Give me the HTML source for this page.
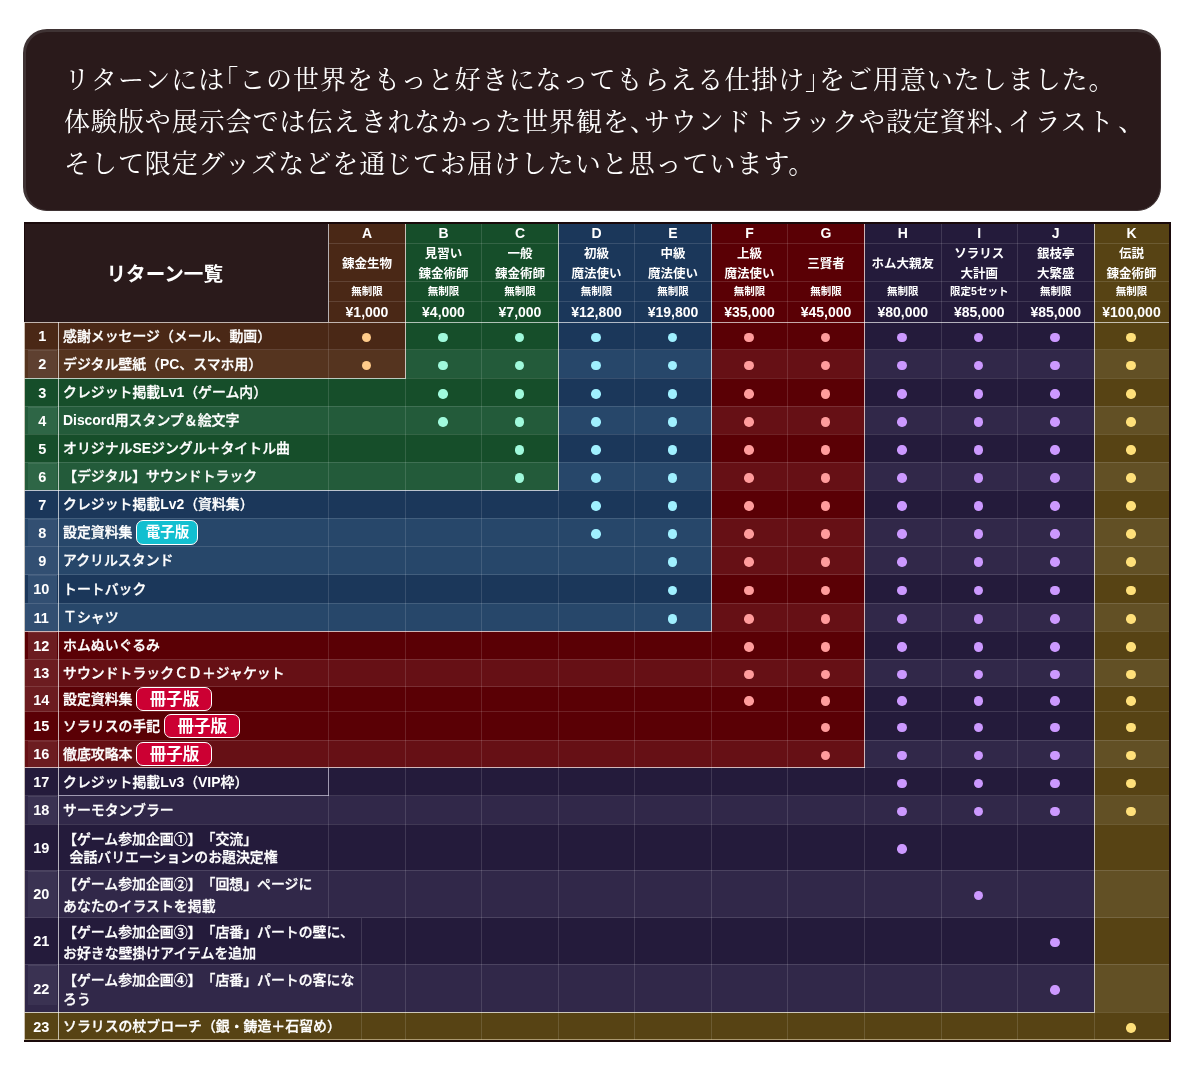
<!DOCTYPE html>
<html lang="ja"><head><meta charset="utf-8"><title>リターン一覧</title>
<style>
html,body{margin:0;padding:0;background:#fff;}
body{width:1200px;height:1071px;position:relative;overflow:hidden;}
#tbl div{position:absolute;box-sizing:border-box;}
#tbl .c{display:flex;align-items:center;justify-content:center;text-align:center;}
#tbl .it{display:flex;align-items:center;white-space:nowrap;}
#tbl{text-spacing-trim:space-all;position:absolute;left:0;top:0;width:1200px;height:1071px;font-family:"Liberation Sans","Noto Sans CJK JP",sans-serif;font-weight:700;color:#fff;}
.ttl{font-size:19.6px;}
.let{font-size:14px;}
.nm{font-size:12.5px;line-height:20px;}
.lim{font-size:10.5px;}
.pr{font-size:14px;}
.no{font-size:14.5px;}
.it b{font-weight:700;-webkit-text-stroke:0;}
.it{font-size:13.9px;line-height:22px;font-weight:500;-webkit-text-stroke:0.3px #fff;}
.dot{position:absolute;width:9.5px;height:9.5px;border-radius:50%;display:block;}
.bd{font-weight:700;-webkit-text-stroke:0;display:inline-block;border:1px solid #fff;border-radius:7px;color:#fff;margin-left:4px;box-sizing:border-box;text-align:center;}
.be{background:#12bfd0;font-size:14.5px;width:62px;height:25px;line-height:23px;}
.bp{background:#cc0033;font-size:16.5px;width:76px;height:24.5px;line-height:22.5px;}
#intro{position:absolute;left:23px;top:28.5px;width:1137.5px;height:182.5px;box-sizing:border-box;background:#2a1a1b;border-style:solid;border-color:#3f3334;border-width:3px 1.5px 1.5px 3px;border-radius:24px;}
#intro .h{font-feature-settings:"halt";}
#intro p{margin:0;position:absolute;left:38px;top:25px;font-family:"Noto Serif CJK JP","Noto Serif CJK SC",serif;font-size:26px;line-height:42px;color:#fff;white-space:nowrap;letter-spacing:0.95px;}
</style></head><body>
<div id="intro"><p>リターンには<span class="h">「</span>この世界をもっと好きになってもらえる仕掛け<span class="h">」</span>をご用意いたしました。<br>体験版や展示会では伝えきれなかった世界観を<span class="h">、</span>サウンドトラックや設定資料<span class="h">、</span>イラスト<span style="margin-left:3.5px">、</span><br>そして限定グッズなどを通じてお届けしたいと思っています。</p></div>
<div id="tbl">
<div style="left:24px;top:222px;width:304.5px;height:100px;background:#2a1a1b"></div>
<div style="left:328.5px;top:222px;width:77.0px;height:100px;background:#4a2816"></div>
<div style="left:405.5px;top:222px;width:76.0px;height:100px;background:#164e2a"></div>
<div style="left:481.5px;top:222px;width:77.0px;height:100px;background:#164e2a"></div>
<div style="left:558.5px;top:222px;width:76.0px;height:100px;background:#1b375a"></div>
<div style="left:634.5px;top:222px;width:77.0px;height:100px;background:#1b375a"></div>
<div style="left:711.5px;top:222px;width:76.0px;height:100px;background:#5a0005"></div>
<div style="left:787.5px;top:222px;width:77.0px;height:100px;background:#5a0005"></div>
<div style="left:864.5px;top:222px;width:76.5px;height:100px;background:#241b3b"></div>
<div style="left:941px;top:222px;width:76.5px;height:100px;background:#241b3b"></div>
<div style="left:1017.5px;top:222px;width:76.5px;height:100px;background:#241b3b"></div>
<div style="left:1094px;top:222px;width:75px;height:100px;background:#574314"></div>
<div style="left:24px;top:322px;width:34px;height:27.5px;background:#4a2816"></div>
<div style="left:58px;top:322px;width:270.5px;height:27.5px;background:#4a2816"></div>
<div style="left:328.5px;top:322px;width:77.0px;height:27.5px;background:#4a2816"></div>
<div style="left:405.5px;top:322px;width:76.0px;height:27.5px;background:#164e2a"></div>
<div style="left:481.5px;top:322px;width:77.0px;height:27.5px;background:#164e2a"></div>
<div style="left:558.5px;top:322px;width:76.0px;height:27.5px;background:#1b375a"></div>
<div style="left:634.5px;top:322px;width:77.0px;height:27.5px;background:#1b375a"></div>
<div style="left:711.5px;top:322px;width:76.0px;height:27.5px;background:#5a0005"></div>
<div style="left:787.5px;top:322px;width:77.0px;height:27.5px;background:#5a0005"></div>
<div style="left:864.5px;top:322px;width:76.5px;height:27.5px;background:#241b3b"></div>
<div style="left:941px;top:322px;width:76.5px;height:27.5px;background:#241b3b"></div>
<div style="left:1017.5px;top:322px;width:76.5px;height:27.5px;background:#241b3b"></div>
<div style="left:1094px;top:322px;width:75px;height:27.5px;background:#574314"></div>
<div style="left:24px;top:349.5px;width:34px;height:28.5px;background:#55341f"></div>
<div style="left:28px;top:350.0px;width:28.5px;height:27.5px;background:#5e4030"></div>
<div style="left:28px;top:350.0px;width:28.5px;height:1.0px;background:rgba(255,255,255,0.08)"></div>
<div style="left:58px;top:349.5px;width:270.5px;height:28.5px;background:#55341f"></div>
<div style="left:328.5px;top:349.5px;width:77.0px;height:28.5px;background:#55341f"></div>
<div style="left:405.5px;top:349.5px;width:76.0px;height:28.5px;background:#235b3a"></div>
<div style="left:481.5px;top:349.5px;width:77.0px;height:28.5px;background:#235b3a"></div>
<div style="left:558.5px;top:349.5px;width:76.0px;height:28.5px;background:#27476a"></div>
<div style="left:634.5px;top:349.5px;width:77.0px;height:28.5px;background:#27476a"></div>
<div style="left:711.5px;top:349.5px;width:76.0px;height:28.5px;background:#661015"></div>
<div style="left:787.5px;top:349.5px;width:77.0px;height:28.5px;background:#661015"></div>
<div style="left:864.5px;top:349.5px;width:76.5px;height:28.5px;background:#312849"></div>
<div style="left:941px;top:349.5px;width:76.5px;height:28.5px;background:#312849"></div>
<div style="left:1017.5px;top:349.5px;width:76.5px;height:28.5px;background:#312849"></div>
<div style="left:1094px;top:349.5px;width:75px;height:28.5px;background:#625025"></div>
<div style="left:24px;top:378px;width:34px;height:28px;background:#164e2a"></div>
<div style="left:58px;top:378px;width:270.5px;height:28px;background:#164e2a"></div>
<div style="left:328.5px;top:378px;width:77.0px;height:28px;background:#164e2a"></div>
<div style="left:405.5px;top:378px;width:76.0px;height:28px;background:#164e2a"></div>
<div style="left:481.5px;top:378px;width:77.0px;height:28px;background:#164e2a"></div>
<div style="left:558.5px;top:378px;width:76.0px;height:28px;background:#1b375a"></div>
<div style="left:634.5px;top:378px;width:77.0px;height:28px;background:#1b375a"></div>
<div style="left:711.5px;top:378px;width:76.0px;height:28px;background:#5a0005"></div>
<div style="left:787.5px;top:378px;width:77.0px;height:28px;background:#5a0005"></div>
<div style="left:864.5px;top:378px;width:76.5px;height:28px;background:#241b3b"></div>
<div style="left:941px;top:378px;width:76.5px;height:28px;background:#241b3b"></div>
<div style="left:1017.5px;top:378px;width:76.5px;height:28px;background:#241b3b"></div>
<div style="left:1094px;top:378px;width:75px;height:28px;background:#574314"></div>
<div style="left:24px;top:406px;width:34px;height:28px;background:#235b3a"></div>
<div style="left:28px;top:406.5px;width:28.5px;height:27.0px;background:#2e6646"></div>
<div style="left:28px;top:406.5px;width:28.5px;height:1.0px;background:rgba(255,255,255,0.08)"></div>
<div style="left:58px;top:406px;width:270.5px;height:28px;background:#235b3a"></div>
<div style="left:328.5px;top:406px;width:77.0px;height:28px;background:#235b3a"></div>
<div style="left:405.5px;top:406px;width:76.0px;height:28px;background:#235b3a"></div>
<div style="left:481.5px;top:406px;width:77.0px;height:28px;background:#235b3a"></div>
<div style="left:558.5px;top:406px;width:76.0px;height:28px;background:#27476a"></div>
<div style="left:634.5px;top:406px;width:77.0px;height:28px;background:#27476a"></div>
<div style="left:711.5px;top:406px;width:76.0px;height:28px;background:#661015"></div>
<div style="left:787.5px;top:406px;width:77.0px;height:28px;background:#661015"></div>
<div style="left:864.5px;top:406px;width:76.5px;height:28px;background:#312849"></div>
<div style="left:941px;top:406px;width:76.5px;height:28px;background:#312849"></div>
<div style="left:1017.5px;top:406px;width:76.5px;height:28px;background:#312849"></div>
<div style="left:1094px;top:406px;width:75px;height:28px;background:#625025"></div>
<div style="left:24px;top:434px;width:34px;height:28px;background:#164e2a"></div>
<div style="left:58px;top:434px;width:270.5px;height:28px;background:#164e2a"></div>
<div style="left:328.5px;top:434px;width:77.0px;height:28px;background:#164e2a"></div>
<div style="left:405.5px;top:434px;width:76.0px;height:28px;background:#164e2a"></div>
<div style="left:481.5px;top:434px;width:77.0px;height:28px;background:#164e2a"></div>
<div style="left:558.5px;top:434px;width:76.0px;height:28px;background:#1b375a"></div>
<div style="left:634.5px;top:434px;width:77.0px;height:28px;background:#1b375a"></div>
<div style="left:711.5px;top:434px;width:76.0px;height:28px;background:#5a0005"></div>
<div style="left:787.5px;top:434px;width:77.0px;height:28px;background:#5a0005"></div>
<div style="left:864.5px;top:434px;width:76.5px;height:28px;background:#241b3b"></div>
<div style="left:941px;top:434px;width:76.5px;height:28px;background:#241b3b"></div>
<div style="left:1017.5px;top:434px;width:76.5px;height:28px;background:#241b3b"></div>
<div style="left:1094px;top:434px;width:75px;height:28px;background:#574314"></div>
<div style="left:24px;top:462px;width:34px;height:28px;background:#235b3a"></div>
<div style="left:28px;top:462.5px;width:28.5px;height:27.0px;background:#2e6646"></div>
<div style="left:28px;top:462.5px;width:28.5px;height:1.0px;background:rgba(255,255,255,0.08)"></div>
<div style="left:58px;top:462px;width:270.5px;height:28px;background:#235b3a"></div>
<div style="left:328.5px;top:462px;width:77.0px;height:28px;background:#235b3a"></div>
<div style="left:405.5px;top:462px;width:76.0px;height:28px;background:#235b3a"></div>
<div style="left:481.5px;top:462px;width:77.0px;height:28px;background:#235b3a"></div>
<div style="left:558.5px;top:462px;width:76.0px;height:28px;background:#27476a"></div>
<div style="left:634.5px;top:462px;width:77.0px;height:28px;background:#27476a"></div>
<div style="left:711.5px;top:462px;width:76.0px;height:28px;background:#661015"></div>
<div style="left:787.5px;top:462px;width:77.0px;height:28px;background:#661015"></div>
<div style="left:864.5px;top:462px;width:76.5px;height:28px;background:#312849"></div>
<div style="left:941px;top:462px;width:76.5px;height:28px;background:#312849"></div>
<div style="left:1017.5px;top:462px;width:76.5px;height:28px;background:#312849"></div>
<div style="left:1094px;top:462px;width:75px;height:28px;background:#625025"></div>
<div style="left:24px;top:490px;width:34px;height:28px;background:#1b375a"></div>
<div style="left:58px;top:490px;width:270.5px;height:28px;background:#1b375a"></div>
<div style="left:328.5px;top:490px;width:77.0px;height:28px;background:#1b375a"></div>
<div style="left:405.5px;top:490px;width:76.0px;height:28px;background:#1b375a"></div>
<div style="left:481.5px;top:490px;width:77.0px;height:28px;background:#1b375a"></div>
<div style="left:558.5px;top:490px;width:76.0px;height:28px;background:#1b375a"></div>
<div style="left:634.5px;top:490px;width:77.0px;height:28px;background:#1b375a"></div>
<div style="left:711.5px;top:490px;width:76.0px;height:28px;background:#5a0005"></div>
<div style="left:787.5px;top:490px;width:77.0px;height:28px;background:#5a0005"></div>
<div style="left:864.5px;top:490px;width:76.5px;height:28px;background:#241b3b"></div>
<div style="left:941px;top:490px;width:76.5px;height:28px;background:#241b3b"></div>
<div style="left:1017.5px;top:490px;width:76.5px;height:28px;background:#241b3b"></div>
<div style="left:1094px;top:490px;width:75px;height:28px;background:#574314"></div>
<div style="left:24px;top:518px;width:34px;height:28px;background:#27476a"></div>
<div style="left:28px;top:518.5px;width:28.5px;height:27.0px;background:#324f72"></div>
<div style="left:28px;top:518.5px;width:28.5px;height:1.0px;background:rgba(255,255,255,0.08)"></div>
<div style="left:58px;top:518px;width:270.5px;height:28px;background:#27476a"></div>
<div style="left:328.5px;top:518px;width:77.0px;height:28px;background:#27476a"></div>
<div style="left:405.5px;top:518px;width:76.0px;height:28px;background:#27476a"></div>
<div style="left:481.5px;top:518px;width:77.0px;height:28px;background:#27476a"></div>
<div style="left:558.5px;top:518px;width:76.0px;height:28px;background:#27476a"></div>
<div style="left:634.5px;top:518px;width:77.0px;height:28px;background:#27476a"></div>
<div style="left:711.5px;top:518px;width:76.0px;height:28px;background:#661015"></div>
<div style="left:787.5px;top:518px;width:77.0px;height:28px;background:#661015"></div>
<div style="left:864.5px;top:518px;width:76.5px;height:28px;background:#312849"></div>
<div style="left:941px;top:518px;width:76.5px;height:28px;background:#312849"></div>
<div style="left:1017.5px;top:518px;width:76.5px;height:28px;background:#312849"></div>
<div style="left:1094px;top:518px;width:75px;height:28px;background:#625025"></div>
<div style="left:24px;top:546px;width:34px;height:28.5px;background:#324f72"></div>
<div style="left:58px;top:546px;width:270.5px;height:28.5px;background:#27476a"></div>
<div style="left:328.5px;top:546px;width:77.0px;height:28.5px;background:#27476a"></div>
<div style="left:405.5px;top:546px;width:76.0px;height:28.5px;background:#27476a"></div>
<div style="left:481.5px;top:546px;width:77.0px;height:28.5px;background:#27476a"></div>
<div style="left:558.5px;top:546px;width:76.0px;height:28.5px;background:#27476a"></div>
<div style="left:634.5px;top:546px;width:77.0px;height:28.5px;background:#27476a"></div>
<div style="left:711.5px;top:546px;width:76.0px;height:28.5px;background:#661015"></div>
<div style="left:787.5px;top:546px;width:77.0px;height:28.5px;background:#661015"></div>
<div style="left:864.5px;top:546px;width:76.5px;height:28.5px;background:#312849"></div>
<div style="left:941px;top:546px;width:76.5px;height:28.5px;background:#312849"></div>
<div style="left:1017.5px;top:546px;width:76.5px;height:28.5px;background:#312849"></div>
<div style="left:1094px;top:546px;width:75px;height:28.5px;background:#625025"></div>
<div style="left:24px;top:574.5px;width:34px;height:28.5px;background:#1b375a"></div>
<div style="left:28px;top:575.0px;width:28.5px;height:27.5px;background:#324f72"></div>
<div style="left:28px;top:575.0px;width:28.5px;height:1.0px;background:rgba(255,255,255,0.08)"></div>
<div style="left:58px;top:574.5px;width:270.5px;height:28.5px;background:#1b375a"></div>
<div style="left:328.5px;top:574.5px;width:77.0px;height:28.5px;background:#1b375a"></div>
<div style="left:405.5px;top:574.5px;width:76.0px;height:28.5px;background:#1b375a"></div>
<div style="left:481.5px;top:574.5px;width:77.0px;height:28.5px;background:#1b375a"></div>
<div style="left:558.5px;top:574.5px;width:76.0px;height:28.5px;background:#1b375a"></div>
<div style="left:634.5px;top:574.5px;width:77.0px;height:28.5px;background:#1b375a"></div>
<div style="left:711.5px;top:574.5px;width:76.0px;height:28.5px;background:#5a0005"></div>
<div style="left:787.5px;top:574.5px;width:77.0px;height:28.5px;background:#5a0005"></div>
<div style="left:864.5px;top:574.5px;width:76.5px;height:28.5px;background:#241b3b"></div>
<div style="left:941px;top:574.5px;width:76.5px;height:28.5px;background:#241b3b"></div>
<div style="left:1017.5px;top:574.5px;width:76.5px;height:28.5px;background:#241b3b"></div>
<div style="left:1094px;top:574.5px;width:75px;height:28.5px;background:#574314"></div>
<div style="left:24px;top:603px;width:34px;height:28px;background:#324f72"></div>
<div style="left:58px;top:603px;width:270.5px;height:28px;background:#27476a"></div>
<div style="left:328.5px;top:603px;width:77.0px;height:28px;background:#27476a"></div>
<div style="left:405.5px;top:603px;width:76.0px;height:28px;background:#27476a"></div>
<div style="left:481.5px;top:603px;width:77.0px;height:28px;background:#27476a"></div>
<div style="left:558.5px;top:603px;width:76.0px;height:28px;background:#27476a"></div>
<div style="left:634.5px;top:603px;width:77.0px;height:28px;background:#27476a"></div>
<div style="left:711.5px;top:603px;width:76.0px;height:28px;background:#661015"></div>
<div style="left:787.5px;top:603px;width:77.0px;height:28px;background:#661015"></div>
<div style="left:864.5px;top:603px;width:76.5px;height:28px;background:#312849"></div>
<div style="left:941px;top:603px;width:76.5px;height:28px;background:#312849"></div>
<div style="left:1017.5px;top:603px;width:76.5px;height:28px;background:#312849"></div>
<div style="left:1094px;top:603px;width:75px;height:28px;background:#625025"></div>
<div style="left:24px;top:631px;width:34px;height:28px;background:#5a0005"></div>
<div style="left:28px;top:631.5px;width:28.5px;height:27.0px;background:#6c1c20"></div>
<div style="left:28px;top:631.5px;width:28.5px;height:1.0px;background:rgba(255,255,255,0.08)"></div>
<div style="left:58px;top:631px;width:270.5px;height:28px;background:#5a0005"></div>
<div style="left:328.5px;top:631px;width:77.0px;height:28px;background:#5a0005"></div>
<div style="left:405.5px;top:631px;width:76.0px;height:28px;background:#5a0005"></div>
<div style="left:481.5px;top:631px;width:77.0px;height:28px;background:#5a0005"></div>
<div style="left:558.5px;top:631px;width:76.0px;height:28px;background:#5a0005"></div>
<div style="left:634.5px;top:631px;width:77.0px;height:28px;background:#5a0005"></div>
<div style="left:711.5px;top:631px;width:76.0px;height:28px;background:#5a0005"></div>
<div style="left:787.5px;top:631px;width:77.0px;height:28px;background:#5a0005"></div>
<div style="left:864.5px;top:631px;width:76.5px;height:28px;background:#241b3b"></div>
<div style="left:941px;top:631px;width:76.5px;height:28px;background:#241b3b"></div>
<div style="left:1017.5px;top:631px;width:76.5px;height:28px;background:#241b3b"></div>
<div style="left:1094px;top:631px;width:75px;height:28px;background:#574314"></div>
<div style="left:24px;top:659px;width:34px;height:27.5px;background:#6c1c20"></div>
<div style="left:58px;top:659px;width:270.5px;height:27.5px;background:#661015"></div>
<div style="left:328.5px;top:659px;width:77.0px;height:27.5px;background:#661015"></div>
<div style="left:405.5px;top:659px;width:76.0px;height:27.5px;background:#661015"></div>
<div style="left:481.5px;top:659px;width:77.0px;height:27.5px;background:#661015"></div>
<div style="left:558.5px;top:659px;width:76.0px;height:27.5px;background:#661015"></div>
<div style="left:634.5px;top:659px;width:77.0px;height:27.5px;background:#661015"></div>
<div style="left:711.5px;top:659px;width:76.0px;height:27.5px;background:#661015"></div>
<div style="left:787.5px;top:659px;width:77.0px;height:27.5px;background:#661015"></div>
<div style="left:864.5px;top:659px;width:76.5px;height:27.5px;background:#312849"></div>
<div style="left:941px;top:659px;width:76.5px;height:27.5px;background:#312849"></div>
<div style="left:1017.5px;top:659px;width:76.5px;height:27.5px;background:#312849"></div>
<div style="left:1094px;top:659px;width:75px;height:27.5px;background:#625025"></div>
<div style="left:24px;top:686.5px;width:34px;height:25.0px;background:#6c1c20"></div>
<div style="left:58px;top:686.5px;width:270.5px;height:25.0px;background:#5a0005"></div>
<div style="left:328.5px;top:686.5px;width:77.0px;height:25.0px;background:#5a0005"></div>
<div style="left:405.5px;top:686.5px;width:76.0px;height:25.0px;background:#5a0005"></div>
<div style="left:481.5px;top:686.5px;width:77.0px;height:25.0px;background:#5a0005"></div>
<div style="left:558.5px;top:686.5px;width:76.0px;height:25.0px;background:#5a0005"></div>
<div style="left:634.5px;top:686.5px;width:77.0px;height:25.0px;background:#5a0005"></div>
<div style="left:711.5px;top:686.5px;width:76.0px;height:25.0px;background:#5a0005"></div>
<div style="left:787.5px;top:686.5px;width:77.0px;height:25.0px;background:#5a0005"></div>
<div style="left:864.5px;top:686.5px;width:76.5px;height:25.0px;background:#241b3b"></div>
<div style="left:941px;top:686.5px;width:76.5px;height:25.0px;background:#241b3b"></div>
<div style="left:1017.5px;top:686.5px;width:76.5px;height:25.0px;background:#241b3b"></div>
<div style="left:1094px;top:686.5px;width:75px;height:25.0px;background:#574314"></div>
<div style="left:24px;top:711.5px;width:34px;height:28.5px;background:#5a0005"></div>
<div style="left:58px;top:711.5px;width:270.5px;height:28.5px;background:#5a0005"></div>
<div style="left:328.5px;top:711.5px;width:77.0px;height:28.5px;background:#5a0005"></div>
<div style="left:405.5px;top:711.5px;width:76.0px;height:28.5px;background:#5a0005"></div>
<div style="left:481.5px;top:711.5px;width:77.0px;height:28.5px;background:#5a0005"></div>
<div style="left:558.5px;top:711.5px;width:76.0px;height:28.5px;background:#5a0005"></div>
<div style="left:634.5px;top:711.5px;width:77.0px;height:28.5px;background:#5a0005"></div>
<div style="left:711.5px;top:711.5px;width:76.0px;height:28.5px;background:#5a0005"></div>
<div style="left:787.5px;top:711.5px;width:77.0px;height:28.5px;background:#5a0005"></div>
<div style="left:864.5px;top:711.5px;width:76.5px;height:28.5px;background:#241b3b"></div>
<div style="left:941px;top:711.5px;width:76.5px;height:28.5px;background:#241b3b"></div>
<div style="left:1017.5px;top:711.5px;width:76.5px;height:28.5px;background:#241b3b"></div>
<div style="left:1094px;top:711.5px;width:75px;height:28.5px;background:#574314"></div>
<div style="left:24px;top:740px;width:34px;height:27.5px;background:#661015"></div>
<div style="left:28px;top:740.5px;width:28.5px;height:26.5px;background:#6c1c20"></div>
<div style="left:28px;top:740.5px;width:28.5px;height:1.0px;background:rgba(255,255,255,0.08)"></div>
<div style="left:58px;top:740px;width:270.5px;height:27.5px;background:#661015"></div>
<div style="left:328.5px;top:740px;width:77.0px;height:27.5px;background:#661015"></div>
<div style="left:405.5px;top:740px;width:76.0px;height:27.5px;background:#661015"></div>
<div style="left:481.5px;top:740px;width:77.0px;height:27.5px;background:#661015"></div>
<div style="left:558.5px;top:740px;width:76.0px;height:27.5px;background:#661015"></div>
<div style="left:634.5px;top:740px;width:77.0px;height:27.5px;background:#661015"></div>
<div style="left:711.5px;top:740px;width:76.0px;height:27.5px;background:#661015"></div>
<div style="left:787.5px;top:740px;width:77.0px;height:27.5px;background:#661015"></div>
<div style="left:864.5px;top:740px;width:76.5px;height:27.5px;background:#312849"></div>
<div style="left:941px;top:740px;width:76.5px;height:27.5px;background:#312849"></div>
<div style="left:1017.5px;top:740px;width:76.5px;height:27.5px;background:#312849"></div>
<div style="left:1094px;top:740px;width:75px;height:27.5px;background:#625025"></div>
<div style="left:24px;top:767.5px;width:34px;height:28.0px;background:#241b3b"></div>
<div style="left:58px;top:767.5px;width:270.5px;height:28.0px;background:#241b3b"></div>
<div style="left:328.5px;top:767.5px;width:77.0px;height:28.0px;background:#241b3b"></div>
<div style="left:405.5px;top:767.5px;width:76.0px;height:28.0px;background:#241b3b"></div>
<div style="left:481.5px;top:767.5px;width:77.0px;height:28.0px;background:#241b3b"></div>
<div style="left:558.5px;top:767.5px;width:76.0px;height:28.0px;background:#241b3b"></div>
<div style="left:634.5px;top:767.5px;width:77.0px;height:28.0px;background:#241b3b"></div>
<div style="left:711.5px;top:767.5px;width:76.0px;height:28.0px;background:#241b3b"></div>
<div style="left:787.5px;top:767.5px;width:77.0px;height:28.0px;background:#241b3b"></div>
<div style="left:864.5px;top:767.5px;width:76.5px;height:28.0px;background:#241b3b"></div>
<div style="left:941px;top:767.5px;width:76.5px;height:28.0px;background:#241b3b"></div>
<div style="left:1017.5px;top:767.5px;width:76.5px;height:28.0px;background:#241b3b"></div>
<div style="left:1094px;top:767.5px;width:75px;height:28.0px;background:#574314"></div>
<div style="left:24px;top:795.5px;width:34px;height:28.5px;background:#312849"></div>
<div style="left:28px;top:796.0px;width:28.5px;height:27.5px;background:#3a3252"></div>
<div style="left:28px;top:796.0px;width:28.5px;height:1.0px;background:rgba(255,255,255,0.08)"></div>
<div style="left:58px;top:795.5px;width:270.5px;height:28.5px;background:#312849"></div>
<div style="left:328.5px;top:795.5px;width:77.0px;height:28.5px;background:#312849"></div>
<div style="left:405.5px;top:795.5px;width:76.0px;height:28.5px;background:#312849"></div>
<div style="left:481.5px;top:795.5px;width:77.0px;height:28.5px;background:#312849"></div>
<div style="left:558.5px;top:795.5px;width:76.0px;height:28.5px;background:#312849"></div>
<div style="left:634.5px;top:795.5px;width:77.0px;height:28.5px;background:#312849"></div>
<div style="left:711.5px;top:795.5px;width:76.0px;height:28.5px;background:#312849"></div>
<div style="left:787.5px;top:795.5px;width:77.0px;height:28.5px;background:#312849"></div>
<div style="left:864.5px;top:795.5px;width:76.5px;height:28.5px;background:#312849"></div>
<div style="left:941px;top:795.5px;width:76.5px;height:28.5px;background:#312849"></div>
<div style="left:1017.5px;top:795.5px;width:76.5px;height:28.5px;background:#312849"></div>
<div style="left:1094px;top:795.5px;width:75px;height:28.5px;background:#625025"></div>
<div style="left:24px;top:824px;width:34px;height:46px;background:#241b3b"></div>
<div style="left:58px;top:824px;width:270.5px;height:46px;background:#241b3b"></div>
<div style="left:328.5px;top:824px;width:77.0px;height:46px;background:#241b3b"></div>
<div style="left:405.5px;top:824px;width:76.0px;height:46px;background:#241b3b"></div>
<div style="left:481.5px;top:824px;width:77.0px;height:46px;background:#241b3b"></div>
<div style="left:558.5px;top:824px;width:76.0px;height:46px;background:#241b3b"></div>
<div style="left:634.5px;top:824px;width:77.0px;height:46px;background:#241b3b"></div>
<div style="left:711.5px;top:824px;width:76.0px;height:46px;background:#241b3b"></div>
<div style="left:787.5px;top:824px;width:77.0px;height:46px;background:#241b3b"></div>
<div style="left:864.5px;top:824px;width:76.5px;height:46px;background:#241b3b"></div>
<div style="left:941px;top:824px;width:76.5px;height:46px;background:#241b3b"></div>
<div style="left:1017.5px;top:824px;width:76.5px;height:46px;background:#241b3b"></div>
<div style="left:1094px;top:824px;width:75px;height:46px;background:#574314"></div>
<div style="left:24px;top:870px;width:34px;height:47.5px;background:#312849"></div>
<div style="left:28px;top:870.5px;width:28.5px;height:46.5px;background:#3a3252"></div>
<div style="left:28px;top:870.5px;width:28.5px;height:1.0px;background:rgba(255,255,255,0.08)"></div>
<div style="left:58px;top:870px;width:270.5px;height:47.5px;background:#312849"></div>
<div style="left:328.5px;top:870px;width:77.0px;height:47.5px;background:#312849"></div>
<div style="left:405.5px;top:870px;width:76.0px;height:47.5px;background:#312849"></div>
<div style="left:481.5px;top:870px;width:77.0px;height:47.5px;background:#312849"></div>
<div style="left:558.5px;top:870px;width:76.0px;height:47.5px;background:#312849"></div>
<div style="left:634.5px;top:870px;width:77.0px;height:47.5px;background:#312849"></div>
<div style="left:711.5px;top:870px;width:76.0px;height:47.5px;background:#312849"></div>
<div style="left:787.5px;top:870px;width:77.0px;height:47.5px;background:#312849"></div>
<div style="left:864.5px;top:870px;width:76.5px;height:47.5px;background:#312849"></div>
<div style="left:941px;top:870px;width:76.5px;height:47.5px;background:#312849"></div>
<div style="left:1017.5px;top:870px;width:76.5px;height:47.5px;background:#312849"></div>
<div style="left:1094px;top:870px;width:75px;height:47.5px;background:#625025"></div>
<div style="left:24px;top:917.5px;width:34px;height:46.5px;background:#241b3b"></div>
<div style="left:58px;top:917.5px;width:270.5px;height:46.5px;background:#241b3b"></div>
<div style="left:328.5px;top:917.5px;width:77.0px;height:46.5px;background:#241b3b"></div>
<div style="left:405.5px;top:917.5px;width:76.0px;height:46.5px;background:#241b3b"></div>
<div style="left:481.5px;top:917.5px;width:77.0px;height:46.5px;background:#241b3b"></div>
<div style="left:558.5px;top:917.5px;width:76.0px;height:46.5px;background:#241b3b"></div>
<div style="left:634.5px;top:917.5px;width:77.0px;height:46.5px;background:#241b3b"></div>
<div style="left:711.5px;top:917.5px;width:76.0px;height:46.5px;background:#241b3b"></div>
<div style="left:787.5px;top:917.5px;width:77.0px;height:46.5px;background:#241b3b"></div>
<div style="left:864.5px;top:917.5px;width:76.5px;height:46.5px;background:#241b3b"></div>
<div style="left:941px;top:917.5px;width:76.5px;height:46.5px;background:#241b3b"></div>
<div style="left:1017.5px;top:917.5px;width:76.5px;height:46.5px;background:#241b3b"></div>
<div style="left:1094px;top:917.5px;width:75px;height:46.5px;background:#574314"></div>
<div style="left:24px;top:964px;width:34px;height:48px;background:#312849"></div>
<div style="left:28px;top:964.5px;width:28.5px;height:40.5px;background:#3a3252"></div>
<div style="left:28px;top:964.5px;width:28.5px;height:1.0px;background:rgba(255,255,255,0.08)"></div>
<div style="left:58px;top:964px;width:270.5px;height:48px;background:#312849"></div>
<div style="left:328.5px;top:964px;width:77.0px;height:48px;background:#312849"></div>
<div style="left:405.5px;top:964px;width:76.0px;height:48px;background:#312849"></div>
<div style="left:481.5px;top:964px;width:77.0px;height:48px;background:#312849"></div>
<div style="left:558.5px;top:964px;width:76.0px;height:48px;background:#312849"></div>
<div style="left:634.5px;top:964px;width:77.0px;height:48px;background:#312849"></div>
<div style="left:711.5px;top:964px;width:76.0px;height:48px;background:#312849"></div>
<div style="left:787.5px;top:964px;width:77.0px;height:48px;background:#312849"></div>
<div style="left:864.5px;top:964px;width:76.5px;height:48px;background:#312849"></div>
<div style="left:941px;top:964px;width:76.5px;height:48px;background:#312849"></div>
<div style="left:1017.5px;top:964px;width:76.5px;height:48px;background:#312849"></div>
<div style="left:1094px;top:964px;width:75px;height:48px;background:#625025"></div>
<div style="left:24px;top:1012px;width:34px;height:28px;background:#574314"></div>
<div style="left:58px;top:1012px;width:270.5px;height:28px;background:#574314"></div>
<div style="left:328.5px;top:1012px;width:77.0px;height:28px;background:#574314"></div>
<div style="left:405.5px;top:1012px;width:76.0px;height:28px;background:#574314"></div>
<div style="left:481.5px;top:1012px;width:77.0px;height:28px;background:#574314"></div>
<div style="left:558.5px;top:1012px;width:76.0px;height:28px;background:#574314"></div>
<div style="left:634.5px;top:1012px;width:77.0px;height:28px;background:#574314"></div>
<div style="left:711.5px;top:1012px;width:76.0px;height:28px;background:#574314"></div>
<div style="left:787.5px;top:1012px;width:77.0px;height:28px;background:#574314"></div>
<div style="left:864.5px;top:1012px;width:76.5px;height:28px;background:#574314"></div>
<div style="left:941px;top:1012px;width:76.5px;height:28px;background:#574314"></div>
<div style="left:1017.5px;top:1012px;width:76.5px;height:28px;background:#574314"></div>
<div style="left:1094px;top:1012px;width:75px;height:28px;background:#574314"></div>
<div style="left:328.5px;top:242.8px;width:840.5px;height:1.0px;background:rgba(255,255,255,0.13)"></div>
<div style="left:328.5px;top:280.8px;width:840.5px;height:1.0px;background:rgba(255,255,255,0.13)"></div>
<div style="left:328.5px;top:301.1px;width:840.5px;height:1.0px;background:rgba(255,255,255,0.13)"></div>
<div style="left:405.0px;top:222px;width:1.0px;height:100px;background:rgba(255,255,255,0.13)"></div>
<div style="left:481.0px;top:222px;width:1.0px;height:100px;background:rgba(255,255,255,0.13)"></div>
<div style="left:558.0px;top:222px;width:1.0px;height:100px;background:rgba(255,255,255,0.13)"></div>
<div style="left:634.0px;top:222px;width:1.0px;height:100px;background:rgba(255,255,255,0.13)"></div>
<div style="left:711.0px;top:222px;width:1.0px;height:100px;background:rgba(255,255,255,0.13)"></div>
<div style="left:787.0px;top:222px;width:1.0px;height:100px;background:rgba(255,255,255,0.13)"></div>
<div style="left:864.0px;top:222px;width:1.0px;height:100px;background:rgba(255,255,255,0.13)"></div>
<div style="left:940.5px;top:222px;width:1.0px;height:100px;background:rgba(255,255,255,0.13)"></div>
<div style="left:1017.0px;top:222px;width:1.0px;height:100px;background:rgba(255,255,255,0.13)"></div>
<div style="left:1093.5px;top:222px;width:1.0px;height:100px;background:rgba(255,255,255,0.13)"></div>
<div style="left:24px;top:349.0px;width:1145px;height:1.0px;background:rgba(255,255,255,0.13)"></div>
<div style="left:24px;top:377.5px;width:1145px;height:1.0px;background:rgba(255,255,255,0.13)"></div>
<div style="left:24px;top:405.5px;width:1145px;height:1.0px;background:rgba(255,255,255,0.13)"></div>
<div style="left:24px;top:433.5px;width:1145px;height:1.0px;background:rgba(255,255,255,0.13)"></div>
<div style="left:24px;top:461.5px;width:1145px;height:1.0px;background:rgba(255,255,255,0.13)"></div>
<div style="left:24px;top:489.5px;width:1145px;height:1.0px;background:rgba(255,255,255,0.13)"></div>
<div style="left:24px;top:517.5px;width:1145px;height:1.0px;background:rgba(255,255,255,0.13)"></div>
<div style="left:24px;top:545.5px;width:1145px;height:1.0px;background:rgba(255,255,255,0.13)"></div>
<div style="left:24px;top:574.0px;width:1145px;height:1.0px;background:rgba(255,255,255,0.13)"></div>
<div style="left:24px;top:602.5px;width:1145px;height:1.0px;background:rgba(255,255,255,0.13)"></div>
<div style="left:24px;top:630.5px;width:1145px;height:1.0px;background:rgba(255,255,255,0.13)"></div>
<div style="left:24px;top:658.5px;width:1145px;height:1.0px;background:rgba(255,255,255,0.13)"></div>
<div style="left:24px;top:686.0px;width:1145px;height:1.0px;background:rgba(255,255,255,0.13)"></div>
<div style="left:24px;top:711.0px;width:1145px;height:1.0px;background:rgba(255,255,255,0.13)"></div>
<div style="left:24px;top:739.5px;width:1145px;height:1.0px;background:rgba(255,255,255,0.13)"></div>
<div style="left:24px;top:767.0px;width:1145px;height:1.0px;background:rgba(255,255,255,0.13)"></div>
<div style="left:24px;top:795.0px;width:1145px;height:1.0px;background:rgba(255,255,255,0.13)"></div>
<div style="left:24px;top:823.5px;width:1145px;height:1.0px;background:rgba(255,255,255,0.13)"></div>
<div style="left:24px;top:869.5px;width:1145px;height:1.0px;background:rgba(255,255,255,0.13)"></div>
<div style="left:24px;top:917.0px;width:1145px;height:1.0px;background:rgba(255,255,255,0.13)"></div>
<div style="left:24px;top:963.5px;width:1145px;height:1.0px;background:rgba(255,255,255,0.13)"></div>
<div style="left:24px;top:1011.5px;width:1145px;height:1.0px;background:rgba(255,255,255,0.13)"></div>
<div style="left:328.0px;top:322px;width:1.0px;height:595.5px;background:rgba(255,255,255,0.13)"></div>
<div style="left:360.5px;top:917.5px;width:1.0px;height:122.5px;background:rgba(255,255,255,0.13)"></div>
<div style="left:405.0px;top:322px;width:1.0px;height:718px;background:rgba(255,255,255,0.13)"></div>
<div style="left:481.0px;top:322px;width:1.0px;height:718px;background:rgba(255,255,255,0.13)"></div>
<div style="left:558.0px;top:322px;width:1.0px;height:718px;background:rgba(255,255,255,0.13)"></div>
<div style="left:634.0px;top:322px;width:1.0px;height:718px;background:rgba(255,255,255,0.13)"></div>
<div style="left:711.0px;top:322px;width:1.0px;height:718px;background:rgba(255,255,255,0.13)"></div>
<div style="left:787.0px;top:322px;width:1.0px;height:718px;background:rgba(255,255,255,0.13)"></div>
<div style="left:864.0px;top:322px;width:1.0px;height:718px;background:rgba(255,255,255,0.13)"></div>
<div style="left:940.5px;top:322px;width:1.0px;height:718px;background:rgba(255,255,255,0.13)"></div>
<div style="left:1017.0px;top:322px;width:1.0px;height:718px;background:rgba(255,255,255,0.13)"></div>
<div style="left:1093.5px;top:322px;width:1.0px;height:718px;background:rgba(255,255,255,0.13)"></div>
<div style="left:405.0px;top:223.5px;width:1.0px;height:154.5px;background:rgba(255,255,255,0.66)"></div>
<div style="left:24px;top:377.5px;width:382.0px;height:1.0px;background:rgba(255,255,255,0.66)"></div>
<div style="left:558.0px;top:223.5px;width:1.0px;height:266.5px;background:rgba(255,255,255,0.66)"></div>
<div style="left:24px;top:489.5px;width:535.0px;height:1.0px;background:rgba(255,255,255,0.66)"></div>
<div style="left:711.0px;top:223.5px;width:1.0px;height:407.5px;background:rgba(255,255,255,0.66)"></div>
<div style="left:24px;top:630.5px;width:688.0px;height:1.0px;background:rgba(255,255,255,0.66)"></div>
<div style="left:864.0px;top:223.5px;width:1.0px;height:544.0px;background:rgba(255,255,255,0.66)"></div>
<div style="left:24px;top:767.0px;width:841.0px;height:1.0px;background:rgba(255,255,255,0.66)"></div>
<div style="left:1093.5px;top:223.5px;width:1.0px;height:788.5px;background:rgba(255,255,255,0.66)"></div>
<div style="left:24px;top:1011.5px;width:1070.5px;height:1.0px;background:rgba(255,255,255,0.66)"></div>
<div style="left:328.0px;top:223.5px;width:1.0px;height:98.5px;background:rgba(255,255,255,0.66)"></div>
<div style="left:24px;top:321.5px;width:1145px;height:1.0px;background:rgba(255,255,255,0.66)"></div>
<div style="left:57.5px;top:322px;width:1.0px;height:718px;background:rgba(255,255,255,0.66)"></div>
<div style="left:24px;top:322px;width:1px;height:718px;background:rgba(225,215,205,0.85)"></div>
<div style="left:24px;top:1039px;width:1145px;height:1px;background:rgba(225,210,170,0.6)"></div>
<div style="left:58px;top:795.0px;width:271.0px;height:1.0px;background:rgba(200,195,215,0.7)"></div>
<div style="left:328.0px;top:767.5px;width:1.0px;height:28.0px;background:rgba(200,195,215,0.7)"></div>
<div style="left:24px;top:221.5px;width:1147px;height:2.5px;background:#1a0a0b"></div>
<div style="left:24px;top:221.5px;width:1px;height:100.5px;background:#1a0a0b"></div>
<div style="left:1169px;top:221.5px;width:2px;height:820.5px;background:#1a0a0b"></div>
<div style="left:23.5px;top:1040px;width:1147.5px;height:2px;background:#1a0a0b"></div>
<div class="c ttl" style="left:24px;top:222px;width:281.5px;height:100px">リターン一覧</div>
<div class="c let" style="left:328.5px;top:222px;width:77.0px;height:21.3px">A</div>
<div class="c nm" style="left:328.5px;top:245.3px;width:77.0px;height:38.0px">錬金生物</div>
<div class="c lim" style="left:328.5px;top:280.3px;width:77.0px;height:20.3px">無制限</div>
<div class="c pr" style="left:328.5px;top:301.6px;width:77.0px;height:20.4px">¥1,000</div>
<div class="c let" style="left:405.5px;top:222px;width:76.0px;height:21.3px">B</div>
<div class="c nm" style="left:405.5px;top:245.3px;width:76.0px;height:38.0px">見習い<br>錬金術師</div>
<div class="c lim" style="left:405.5px;top:280.3px;width:76.0px;height:20.3px">無制限</div>
<div class="c pr" style="left:405.5px;top:301.6px;width:76.0px;height:20.4px">¥4,000</div>
<div class="c let" style="left:481.5px;top:222px;width:77.0px;height:21.3px">C</div>
<div class="c nm" style="left:481.5px;top:245.3px;width:77.0px;height:38.0px">一般<br>錬金術師</div>
<div class="c lim" style="left:481.5px;top:280.3px;width:77.0px;height:20.3px">無制限</div>
<div class="c pr" style="left:481.5px;top:301.6px;width:77.0px;height:20.4px">¥7,000</div>
<div class="c let" style="left:558.5px;top:222px;width:76.0px;height:21.3px">D</div>
<div class="c nm" style="left:558.5px;top:245.3px;width:76.0px;height:38.0px">初級<br>魔法使い</div>
<div class="c lim" style="left:558.5px;top:280.3px;width:76.0px;height:20.3px">無制限</div>
<div class="c pr" style="left:558.5px;top:301.6px;width:76.0px;height:20.4px">¥12,800</div>
<div class="c let" style="left:634.5px;top:222px;width:77.0px;height:21.3px">E</div>
<div class="c nm" style="left:634.5px;top:245.3px;width:77.0px;height:38.0px">中級<br>魔法使い</div>
<div class="c lim" style="left:634.5px;top:280.3px;width:77.0px;height:20.3px">無制限</div>
<div class="c pr" style="left:634.5px;top:301.6px;width:77.0px;height:20.4px">¥19,800</div>
<div class="c let" style="left:711.5px;top:222px;width:76.0px;height:21.3px">F</div>
<div class="c nm" style="left:711.5px;top:245.3px;width:76.0px;height:38.0px">上級<br>魔法使い</div>
<div class="c lim" style="left:711.5px;top:280.3px;width:76.0px;height:20.3px">無制限</div>
<div class="c pr" style="left:711.5px;top:301.6px;width:76.0px;height:20.4px">¥35,000</div>
<div class="c let" style="left:787.5px;top:222px;width:77.0px;height:21.3px">G</div>
<div class="c nm" style="left:787.5px;top:245.3px;width:77.0px;height:38.0px">三賢者</div>
<div class="c lim" style="left:787.5px;top:280.3px;width:77.0px;height:20.3px">無制限</div>
<div class="c pr" style="left:787.5px;top:301.6px;width:77.0px;height:20.4px">¥45,000</div>
<div class="c let" style="left:864.5px;top:222px;width:76.5px;height:21.3px">H</div>
<div class="c nm" style="left:864.5px;top:245.3px;width:76.5px;height:38.0px">ホム大親友</div>
<div class="c lim" style="left:864.5px;top:280.3px;width:76.5px;height:20.3px">無制限</div>
<div class="c pr" style="left:864.5px;top:301.6px;width:76.5px;height:20.4px">¥80,000</div>
<div class="c let" style="left:941px;top:222px;width:76.5px;height:21.3px">I</div>
<div class="c nm" style="left:941px;top:245.3px;width:76.5px;height:38.0px">ソラリス<br>大計画</div>
<div class="c lim" style="left:941px;top:280.3px;width:76.5px;height:20.3px">限定5セット</div>
<div class="c pr" style="left:941px;top:301.6px;width:76.5px;height:20.4px">¥85,000</div>
<div class="c let" style="left:1017.5px;top:222px;width:76.5px;height:21.3px">J</div>
<div class="c nm" style="left:1017.5px;top:245.3px;width:76.5px;height:38.0px">銀枝亭<br>大繁盛</div>
<div class="c lim" style="left:1017.5px;top:280.3px;width:76.5px;height:20.3px">無制限</div>
<div class="c pr" style="left:1017.5px;top:301.6px;width:76.5px;height:20.4px">¥85,000</div>
<div class="c let" style="left:1094px;top:222px;width:75px;height:21.3px">K</div>
<div class="c nm" style="left:1094px;top:245.3px;width:75px;height:38.0px">伝説<br>錬金術師</div>
<div class="c lim" style="left:1094px;top:280.3px;width:75px;height:20.3px">無制限</div>
<div class="c pr" style="left:1094px;top:301.6px;width:75px;height:20.4px">¥100,000</div>
<div class="c no" style="left:25px;top:322.5px;width:34.5px;height:27.5px">1</div>
<div class="it" style="left:63px;top:322px;width:265.5px;height:27.5px">感謝メッセージ（メール、動画）</div>
<i class="dot" style="left:361.55px;top:332.90px;background:#ffcb8a"></i>
<i class="dot" style="left:438.05px;top:332.90px;background:#a0fadc"></i>
<i class="dot" style="left:514.55px;top:332.90px;background:#a0fadc"></i>
<i class="dot" style="left:591.05px;top:332.90px;background:#a0f0ff"></i>
<i class="dot" style="left:667.55px;top:332.90px;background:#a0f0ff"></i>
<i class="dot" style="left:744.05px;top:332.90px;background:#ff9c9c"></i>
<i class="dot" style="left:820.55px;top:332.90px;background:#ff9c9c"></i>
<i class="dot" style="left:897.30px;top:332.90px;background:#cc99ff"></i>
<i class="dot" style="left:973.80px;top:332.90px;background:#cc99ff"></i>
<i class="dot" style="left:1050.30px;top:332.90px;background:#cc99ff"></i>
<i class="dot" style="left:1126.05px;top:332.90px;background:#ffe07a"></i>
<div class="c no" style="left:25px;top:350.0px;width:34.5px;height:28.5px">2</div>
<div class="it" style="left:63px;top:349.5px;width:265.5px;height:28.5px">デジタル壁紙（<b>PC</b>、スマホ用）</div>
<i class="dot" style="left:361.55px;top:360.90px;background:#ffcb8a"></i>
<i class="dot" style="left:438.05px;top:360.90px;background:#a0fadc"></i>
<i class="dot" style="left:514.55px;top:360.90px;background:#a0fadc"></i>
<i class="dot" style="left:591.05px;top:360.90px;background:#a0f0ff"></i>
<i class="dot" style="left:667.55px;top:360.90px;background:#a0f0ff"></i>
<i class="dot" style="left:744.05px;top:360.90px;background:#ff9c9c"></i>
<i class="dot" style="left:820.55px;top:360.90px;background:#ff9c9c"></i>
<i class="dot" style="left:897.30px;top:360.90px;background:#cc99ff"></i>
<i class="dot" style="left:973.80px;top:360.90px;background:#cc99ff"></i>
<i class="dot" style="left:1050.30px;top:360.90px;background:#cc99ff"></i>
<i class="dot" style="left:1126.05px;top:360.90px;background:#ffe07a"></i>
<div class="c no" style="left:25px;top:378.5px;width:34.5px;height:28.0px">3</div>
<div class="it" style="left:63px;top:378px;width:265.5px;height:28px">クレジット掲載<b>Lv1</b>（ゲーム内）</div>
<i class="dot" style="left:438.05px;top:389.15px;background:#a0fadc"></i>
<i class="dot" style="left:514.55px;top:389.15px;background:#a0fadc"></i>
<i class="dot" style="left:591.05px;top:389.15px;background:#a0f0ff"></i>
<i class="dot" style="left:667.55px;top:389.15px;background:#a0f0ff"></i>
<i class="dot" style="left:744.05px;top:389.15px;background:#ff9c9c"></i>
<i class="dot" style="left:820.55px;top:389.15px;background:#ff9c9c"></i>
<i class="dot" style="left:897.30px;top:389.15px;background:#cc99ff"></i>
<i class="dot" style="left:973.80px;top:389.15px;background:#cc99ff"></i>
<i class="dot" style="left:1050.30px;top:389.15px;background:#cc99ff"></i>
<i class="dot" style="left:1126.05px;top:389.15px;background:#ffe07a"></i>
<div class="c no" style="left:25px;top:406.5px;width:34.5px;height:28.0px">4</div>
<div class="it" style="left:63px;top:406px;width:265.5px;height:28px"><b>Discord</b>用スタンプ＆絵文字</div>
<i class="dot" style="left:438.05px;top:417.15px;background:#a0fadc"></i>
<i class="dot" style="left:514.55px;top:417.15px;background:#a0fadc"></i>
<i class="dot" style="left:591.05px;top:417.15px;background:#a0f0ff"></i>
<i class="dot" style="left:667.55px;top:417.15px;background:#a0f0ff"></i>
<i class="dot" style="left:744.05px;top:417.15px;background:#ff9c9c"></i>
<i class="dot" style="left:820.55px;top:417.15px;background:#ff9c9c"></i>
<i class="dot" style="left:897.30px;top:417.15px;background:#cc99ff"></i>
<i class="dot" style="left:973.80px;top:417.15px;background:#cc99ff"></i>
<i class="dot" style="left:1050.30px;top:417.15px;background:#cc99ff"></i>
<i class="dot" style="left:1126.05px;top:417.15px;background:#ffe07a"></i>
<div class="c no" style="left:25px;top:434.5px;width:34.5px;height:28.0px">5</div>
<div class="it" style="left:63px;top:434px;width:265.5px;height:28px">オリジナル<b>SE</b>ジングル＋タイトル曲</div>
<i class="dot" style="left:514.55px;top:445.15px;background:#a0fadc"></i>
<i class="dot" style="left:591.05px;top:445.15px;background:#a0f0ff"></i>
<i class="dot" style="left:667.55px;top:445.15px;background:#a0f0ff"></i>
<i class="dot" style="left:744.05px;top:445.15px;background:#ff9c9c"></i>
<i class="dot" style="left:820.55px;top:445.15px;background:#ff9c9c"></i>
<i class="dot" style="left:897.30px;top:445.15px;background:#cc99ff"></i>
<i class="dot" style="left:973.80px;top:445.15px;background:#cc99ff"></i>
<i class="dot" style="left:1050.30px;top:445.15px;background:#cc99ff"></i>
<i class="dot" style="left:1126.05px;top:445.15px;background:#ffe07a"></i>
<div class="c no" style="left:25px;top:462.5px;width:34.5px;height:28.0px">6</div>
<div class="it" style="left:63px;top:462px;width:265.5px;height:28px">【デジタル】サウンドトラック</div>
<i class="dot" style="left:514.55px;top:473.15px;background:#a0fadc"></i>
<i class="dot" style="left:591.05px;top:473.15px;background:#a0f0ff"></i>
<i class="dot" style="left:667.55px;top:473.15px;background:#a0f0ff"></i>
<i class="dot" style="left:744.05px;top:473.15px;background:#ff9c9c"></i>
<i class="dot" style="left:820.55px;top:473.15px;background:#ff9c9c"></i>
<i class="dot" style="left:897.30px;top:473.15px;background:#cc99ff"></i>
<i class="dot" style="left:973.80px;top:473.15px;background:#cc99ff"></i>
<i class="dot" style="left:1050.30px;top:473.15px;background:#cc99ff"></i>
<i class="dot" style="left:1126.05px;top:473.15px;background:#ffe07a"></i>
<div class="c no" style="left:25px;top:490.5px;width:34.5px;height:28.0px">7</div>
<div class="it" style="left:63px;top:490px;width:265.5px;height:28px">クレジット掲載<b>Lv2</b>（資料集）</div>
<i class="dot" style="left:591.05px;top:501.15px;background:#a0f0ff"></i>
<i class="dot" style="left:667.55px;top:501.15px;background:#a0f0ff"></i>
<i class="dot" style="left:744.05px;top:501.15px;background:#ff9c9c"></i>
<i class="dot" style="left:820.55px;top:501.15px;background:#ff9c9c"></i>
<i class="dot" style="left:897.30px;top:501.15px;background:#cc99ff"></i>
<i class="dot" style="left:973.80px;top:501.15px;background:#cc99ff"></i>
<i class="dot" style="left:1050.30px;top:501.15px;background:#cc99ff"></i>
<i class="dot" style="left:1126.05px;top:501.15px;background:#ffe07a"></i>
<div class="c no" style="left:25px;top:518.5px;width:34.5px;height:28.0px">8</div>
<div class="it" style="left:63px;top:518px;width:265.5px;height:28px">設定資料集<span class="bd be">電子版</span></div>
<i class="dot" style="left:591.05px;top:529.15px;background:#a0f0ff"></i>
<i class="dot" style="left:667.55px;top:529.15px;background:#a0f0ff"></i>
<i class="dot" style="left:744.05px;top:529.15px;background:#ff9c9c"></i>
<i class="dot" style="left:820.55px;top:529.15px;background:#ff9c9c"></i>
<i class="dot" style="left:897.30px;top:529.15px;background:#cc99ff"></i>
<i class="dot" style="left:973.80px;top:529.15px;background:#cc99ff"></i>
<i class="dot" style="left:1050.30px;top:529.15px;background:#cc99ff"></i>
<i class="dot" style="left:1126.05px;top:529.15px;background:#ffe07a"></i>
<div class="c no" style="left:25px;top:546.5px;width:34.5px;height:28.5px">9</div>
<div class="it" style="left:63px;top:546px;width:265.5px;height:28.5px">アクリルスタンド</div>
<i class="dot" style="left:667.55px;top:557.40px;background:#a0f0ff"></i>
<i class="dot" style="left:744.05px;top:557.40px;background:#ff9c9c"></i>
<i class="dot" style="left:820.55px;top:557.40px;background:#ff9c9c"></i>
<i class="dot" style="left:897.30px;top:557.40px;background:#cc99ff"></i>
<i class="dot" style="left:973.80px;top:557.40px;background:#cc99ff"></i>
<i class="dot" style="left:1050.30px;top:557.40px;background:#cc99ff"></i>
<i class="dot" style="left:1126.05px;top:557.40px;background:#ffe07a"></i>
<div class="c no" style="left:24px;top:575.0px;width:34.5px;height:28.5px">10</div>
<div class="it" style="left:63px;top:574.5px;width:265.5px;height:28.5px">トートバック</div>
<i class="dot" style="left:667.55px;top:585.90px;background:#a0f0ff"></i>
<i class="dot" style="left:744.05px;top:585.90px;background:#ff9c9c"></i>
<i class="dot" style="left:820.55px;top:585.90px;background:#ff9c9c"></i>
<i class="dot" style="left:897.30px;top:585.90px;background:#cc99ff"></i>
<i class="dot" style="left:973.80px;top:585.90px;background:#cc99ff"></i>
<i class="dot" style="left:1050.30px;top:585.90px;background:#cc99ff"></i>
<i class="dot" style="left:1126.05px;top:585.90px;background:#ffe07a"></i>
<div class="c no" style="left:24px;top:603.5px;width:34.5px;height:28.0px">11</div>
<div class="it" style="left:63px;top:603px;width:265.5px;height:28px">Ｔシャツ</div>
<i class="dot" style="left:667.55px;top:614.15px;background:#a0f0ff"></i>
<i class="dot" style="left:744.05px;top:614.15px;background:#ff9c9c"></i>
<i class="dot" style="left:820.55px;top:614.15px;background:#ff9c9c"></i>
<i class="dot" style="left:897.30px;top:614.15px;background:#cc99ff"></i>
<i class="dot" style="left:973.80px;top:614.15px;background:#cc99ff"></i>
<i class="dot" style="left:1050.30px;top:614.15px;background:#cc99ff"></i>
<i class="dot" style="left:1126.05px;top:614.15px;background:#ffe07a"></i>
<div class="c no" style="left:24px;top:631.5px;width:34.5px;height:28.0px">12</div>
<div class="it" style="left:63px;top:631px;width:265.5px;height:28px">ホムぬいぐるみ</div>
<i class="dot" style="left:744.05px;top:642.15px;background:#ff9c9c"></i>
<i class="dot" style="left:820.55px;top:642.15px;background:#ff9c9c"></i>
<i class="dot" style="left:897.30px;top:642.15px;background:#cc99ff"></i>
<i class="dot" style="left:973.80px;top:642.15px;background:#cc99ff"></i>
<i class="dot" style="left:1050.30px;top:642.15px;background:#cc99ff"></i>
<i class="dot" style="left:1126.05px;top:642.15px;background:#ffe07a"></i>
<div class="c no" style="left:24px;top:659.5px;width:34.5px;height:27.5px">13</div>
<div class="it" style="left:63px;top:659px;width:265.5px;height:27.5px">サウンドトラックＣＤ＋ジャケット</div>
<i class="dot" style="left:744.05px;top:669.90px;background:#ff9c9c"></i>
<i class="dot" style="left:820.55px;top:669.90px;background:#ff9c9c"></i>
<i class="dot" style="left:897.30px;top:669.90px;background:#cc99ff"></i>
<i class="dot" style="left:973.80px;top:669.90px;background:#cc99ff"></i>
<i class="dot" style="left:1050.30px;top:669.90px;background:#cc99ff"></i>
<i class="dot" style="left:1126.05px;top:669.90px;background:#ffe07a"></i>
<div class="c no" style="left:24px;top:687.0px;width:34.5px;height:25.0px">14</div>
<div class="it" style="left:63px;top:686.5px;width:265.5px;height:25.0px">設定資料集<span class="bd bp">冊子版</span></div>
<i class="dot" style="left:744.05px;top:696.15px;background:#ff9c9c"></i>
<i class="dot" style="left:820.55px;top:696.15px;background:#ff9c9c"></i>
<i class="dot" style="left:897.30px;top:696.15px;background:#cc99ff"></i>
<i class="dot" style="left:973.80px;top:696.15px;background:#cc99ff"></i>
<i class="dot" style="left:1050.30px;top:696.15px;background:#cc99ff"></i>
<i class="dot" style="left:1126.05px;top:696.15px;background:#ffe07a"></i>
<div class="c no" style="left:24px;top:712.0px;width:34.5px;height:28.5px">15</div>
<div class="it" style="left:63px;top:711.5px;width:265.5px;height:28.5px">ソラリスの手記<span class="bd bp">冊子版</span></div>
<i class="dot" style="left:820.55px;top:722.90px;background:#ff9c9c"></i>
<i class="dot" style="left:897.30px;top:722.90px;background:#cc99ff"></i>
<i class="dot" style="left:973.80px;top:722.90px;background:#cc99ff"></i>
<i class="dot" style="left:1050.30px;top:722.90px;background:#cc99ff"></i>
<i class="dot" style="left:1126.05px;top:722.90px;background:#ffe07a"></i>
<div class="c no" style="left:24px;top:740.5px;width:34.5px;height:27.5px">16</div>
<div class="it" style="left:63px;top:740px;width:265.5px;height:27.5px">徹底攻略本<span class="bd bp">冊子版</span></div>
<i class="dot" style="left:820.55px;top:750.90px;background:#ff9c9c"></i>
<i class="dot" style="left:897.30px;top:750.90px;background:#cc99ff"></i>
<i class="dot" style="left:973.80px;top:750.90px;background:#cc99ff"></i>
<i class="dot" style="left:1050.30px;top:750.90px;background:#cc99ff"></i>
<i class="dot" style="left:1126.05px;top:750.90px;background:#ffe07a"></i>
<div class="c no" style="left:24px;top:768.0px;width:34.5px;height:28.0px">17</div>
<div class="it" style="left:63px;top:767.5px;width:265.5px;height:28.0px">クレジット掲載<b>Lv3</b>（<b>VIP</b>枠）</div>
<i class="dot" style="left:897.30px;top:778.65px;background:#cc99ff"></i>
<i class="dot" style="left:973.80px;top:778.65px;background:#cc99ff"></i>
<i class="dot" style="left:1050.30px;top:778.65px;background:#cc99ff"></i>
<i class="dot" style="left:1126.05px;top:778.65px;background:#ffe07a"></i>
<div class="c no" style="left:24px;top:796.0px;width:34.5px;height:28.5px">18</div>
<div class="it" style="left:63px;top:795.5px;width:265.5px;height:28.5px">サーモタンブラー</div>
<i class="dot" style="left:897.30px;top:806.90px;background:#cc99ff"></i>
<i class="dot" style="left:973.80px;top:806.90px;background:#cc99ff"></i>
<i class="dot" style="left:1050.30px;top:806.90px;background:#cc99ff"></i>
<i class="dot" style="left:1126.05px;top:806.90px;background:#ffe07a"></i>
<div class="c no" style="left:24px;top:824.5px;width:34.5px;height:46.0px">19</div>
<div class="it" style="left:63px;top:828.7px;width:265.5px;height:20.0px">【ゲーム参加企画①】「交流」</div>
<div class="it" style="left:63px;top:847.3px;width:265.5px;height:20.0px"><span style="display:inline-block;width:6.5px"></span>会話バリエーションのお題決定権</div>
<i class="dot" style="left:897.30px;top:844.15px;background:#cc99ff"></i>
<div class="c no" style="left:24px;top:870.5px;width:34.5px;height:47.5px">20</div>
<div class="it" style="left:63px;top:874.4px;width:265.5px;height:20.0px">【ゲーム参加企画②】「回想」ページに</div>
<div class="it" style="left:63px;top:895.8px;width:265.5px;height:20.0px">あなたのイラストを掲載</div>
<i class="dot" style="left:973.80px;top:890.90px;background:#cc99ff"></i>
<div class="c no" style="left:24px;top:918.0px;width:34.5px;height:46.5px">21</div>
<div class="it" style="left:63px;top:922px;width:298px;height:20px">【ゲーム参加企画③】「店番」パートの壁に、</div>
<div class="it" style="left:63px;top:942.5px;width:298px;height:20.0px">お好きな壁掛けアイテムを追加</div>
<i class="dot" style="left:1050.30px;top:937.90px;background:#cc99ff"></i>
<div class="c no" style="left:24px;top:964.5px;width:34.5px;height:48.0px">22</div>
<div class="it" style="left:63px;top:969.6px;width:298px;height:20.0px">【ゲーム参加企画④】「店番」パートの客にな</div>
<div class="it" style="left:63px;top:989.2px;width:298px;height:20.0px">ろう</div>
<i class="dot" style="left:1050.30px;top:985.15px;background:#cc99ff"></i>
<div class="c no" style="left:24px;top:1012.5px;width:34.5px;height:28.0px">23</div>
<div class="it" style="left:63px;top:1012px;width:298px;height:28px">ソラリスの杖ブローチ（銀・鋳造＋石留め）</div>
<i class="dot" style="left:1126.05px;top:1023.15px;background:#ffe07a"></i>
</div>
</body></html>
